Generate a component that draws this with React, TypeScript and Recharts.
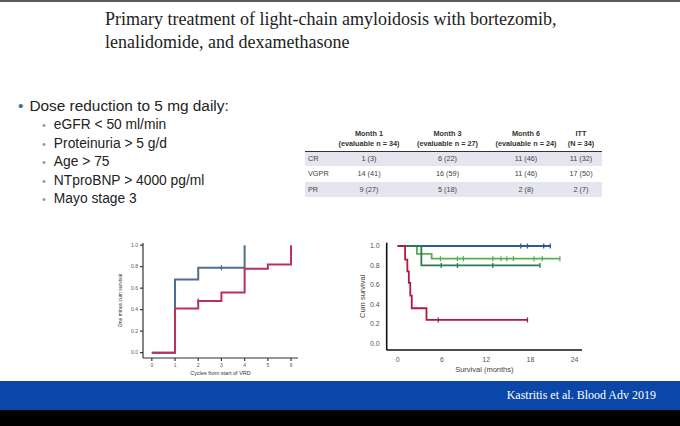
// Slide: VRd in AL amyloidosis — response table + two KM curves
import { LineChart, Line, XAxis, YAxis, Label } from 'recharts'

// ---- text ----
const titleLines = [
  'Primary treatment of light-chain amyloidosis with bortezomib,',
  'lenalidomide, and dexamethasone',
]
const mainBullet = 'Dose reduction to 5 mg daily:'
const subBullets = ['eGFR < 50 ml/min', 'Proteinuria > 5 g/d', 'Age > 75', 'NTproBNP > 4000 pg/ml', 'Mayo stage 3']
const citation = 'Kastritis et al. Blood Adv 2019'

// ---- response table ----
const colHeads = ['Month 1', 'Month 3', 'Month 6', 'ITT']
const colSubs = ['(evaluable n = 34)', '(evaluable n = 27)', '(evaluable n = 24)', '(N = 34)']
const responses = ['CR', 'VGPR', 'PR']
const month1 = ['1 (3)', '14 (41)', '9 (27)']
const month3 = ['6 (22)', '16 (59)', '5 (18)']
const month6 = ['11 (46)', '11 (46)', '2 (8)']
const itt = ['11 (32)', '17 (50)', '2 (7)']

// ---- left chart: cumulative response by cycle ----
const leftTicksX = [0, 1, 2, 3, 4, 5, 6]
const leftTicksY = [0, 0.2, 0.4, 0.6, 0.8, 1.0]
const lBlueT = [0, 1, 2, 3, 4]
const lBlueS = [0, 0.68, 0.79, 0.79, 1.0]
const lBlueC = [0, 0, 0, 1, 0]
const lRedT = [0, 1, 2, 3, 4, 5, 6]
const lRedS = [0, 0.41, 0.48, 0.56, 0.78, 0.82, 1.0]
const lRedC = [0, 0, 1, 0, 0, 0, 0]

// ---- right chart: survival (months) ----
const rightTicksX = [0, 6, 12, 18, 24]
const rightTicksY = [0, 0.2, 0.4, 0.6, 0.8, 1.0]
const rBlueT = [0, 16.7, 17.6, 19.8, 20.7]
const rBlueS = [1, 1, 1, 1, 1]
const rBlueC = [0, 1, 1, 1, 1]
const rLGreenT = [0, 2.6, 4.6, 5.8, 8.1, 8.9, 12.9, 14.0, 14.8, 15.7, 18.5, 19.6, 22.0]
const rLGreenS = [1, 0.92, 0.87, 0.87, 0.87, 0.87, 0.87, 0.87, 0.87, 0.87, 0.87, 0.87, 0.87]
const rLGreenC = [0, 0, 0, 1, 1, 1, 1, 1, 1, 1, 1, 1, 1]
const rDGreenT = [0, 3.2, 5.9, 8.1, 12.9, 19.3]
const rDGreenS = [1, 0.8, 0.8, 0.8, 0.8, 0.8]
const rDGreenC = [0, 0, 1, 1, 1, 1]
const rRedT = [0, 1.0, 1.3, 1.5, 1.7, 1.9, 3.9, 5.5, 17.6]
const rRedS = [1, 0.86, 0.74, 0.62, 0.49, 0.36, 0.24, 0.24, 0.24]
const rRedC = [0, 0, 0, 0, 0, 0, 0, 1, 1]

const zip = (t: number[], s: number[], c: number[]) => t.map((v, i) => ({ t: v, s: s[i], c: c[i] }))

const censorDot = (color: string, h: number) => (props: any) => {
  const { cx, cy, payload, index } = props
  if (!payload?.c) return <g key={`n${index}`} />
  return <line key={`c${index}`} x1={cx} x2={cx} y1={cy - h} y2={cy + h} stroke={color} strokeWidth={1.3} />
}

const sans = 'Arial, "Liberation Sans", sans-serif'
const serif = '"Liberation Serif", "Times New Roman", serif'

function LeftChart() {
  const blue = '#4d6f8f'
  const red = '#b8325c'
  const tick = { fontSize: 5, fill: '#555', fontFamily: sans }
  return (
    <LineChart width={220} height={150} margin={{ top: 8, right: 22, bottom: 7, left: 18 }}>
      <XAxis type="number" dataKey="t" domain={[-0.38, 6.3]} allowDataOverflow ticks={leftTicksX}
        tick={tick} tickSize={3} height={20} stroke="#333" strokeWidth={1.2}>
        <Label value="Cycles from start of VRD" position="insideBottom" offset={3}
          style={{ fontSize: 5.5, fill: '#333', fontFamily: sans }} />
      </XAxis>
      <YAxis type="number" domain={[-0.05, 1.02]} allowDataOverflow ticks={leftTicksY}
        tickFormatter={(v: number) => v.toFixed(1)} tick={tick} tickSize={3} width={25} stroke="#333" strokeWidth={1.2}>
        <Label value="One minus cum survival" angle={-90} position="insideLeft" offset={2}
          style={{ fontSize: 5, fill: '#333', textAnchor: 'middle', fontFamily: sans }} />
      </YAxis>
      <Line type="stepAfter" data={zip(lBlueT, lBlueS, lBlueC)} dataKey="s" stroke={blue} strokeWidth={2}
        dot={censorDot(blue, 2.5)} activeDot={false} isAnimationActive={false} />
      <Line type="stepAfter" data={zip(lRedT, lRedS, lRedC)} dataKey="s" stroke={red} strokeWidth={2}
        dot={censorDot(red, 2.5)} activeDot={false} isAnimationActive={false} />
    </LineChart>
  )
}

function RightChart() {
  const blue = '#2f5a97'
  const lgreen = '#55b04f'
  const dgreen = '#2a7a58'
  const red = '#b3183f'
  const tick = { fontSize: 7, fill: '#555', fontFamily: sans }
  return (
    <LineChart width={250} height={145} margin={{ top: 7.7, right: 8, bottom: 0, left: 16.7 }}>
      <XAxis type="number" dataKey="t" domain={[-1.5, 25]} allowDataOverflow ticks={rightTicksX}
        tick={tick} tickLine={false} tickMargin={1} height={30} stroke="#111" strokeWidth={1.6}>
        <Label value="Survival (months)" position="insideBottom" offset={8}
          style={{ fontSize: 7.5, fill: '#444', fontFamily: sans }} />
      </XAxis>
      <YAxis type="number" domain={[-0.069, 1.034]} allowDataOverflow ticks={rightTicksY}
        tickFormatter={(v: number) => v.toFixed(1)} tick={tick} tickLine={false} tickMargin={1}
        width={30} stroke="#111" strokeWidth={1.6}>
        <Label value="Cum survival" angle={-90} position="insideLeft" offset={6}
          style={{ fontSize: 7.5, fill: '#444', textAnchor: 'middle', fontFamily: sans }} />
      </YAxis>
      <Line type="stepAfter" data={zip(rBlueT, rBlueS, rBlueC)} dataKey="s" stroke={blue} strokeWidth={1.8}
        dot={censorDot(blue, 2.5)} activeDot={false} isAnimationActive={false} />
      <Line type="stepAfter" data={zip(rLGreenT, rLGreenS, rLGreenC)} dataKey="s" stroke={lgreen} strokeWidth={1.8}
        dot={censorDot(lgreen, 2.5)} activeDot={false} isAnimationActive={false} />
      <Line type="stepAfter" data={zip(rDGreenT, rDGreenS, rDGreenC)} dataKey="s" stroke={dgreen} strokeWidth={1.8}
        dot={censorDot(dgreen, 2.5)} activeDot={false} isAnimationActive={false} />
      <Line type="stepAfter" data={zip(rRedT, rRedS, rRedC)} dataKey="s" stroke={red} strokeWidth={1.8}
        dot={censorDot(red, 2.5)} activeDot={false} isAnimationActive={false} />
    </LineChart>
  )
}

function ResponseTable() {
  const cols = [month1, month3, month6, itt]
  const widths = [30, 68, 89, 68, 42]
  const cell = { padding: 0, textAlign: 'center' as const }
  return (
    <table style={{ position: 'absolute', left: 305, top: 127, width: 297, borderCollapse: 'collapse',
      fontFamily: sans, fontSize: 7.3, color: '#444', tableLayout: 'fixed' }}>
      <colgroup>{widths.map((w, i) => <col key={i} style={{ width: w }} />)}</colgroup>
      <thead>
        <tr style={{ height: 24, borderBottom: '1.5px solid #333' }}>
          <th />
          {colHeads.map((h, i) => (
            <th key={h} style={{ ...cell, fontWeight: 700, color: '#333', lineHeight: '9.5px', verticalAlign: 'middle' }}>
              {h}<br />{colSubs[i]}
            </th>
          ))}
        </tr>
      </thead>
      <tbody>
        {responses.map((r, ri) => (
          <tr key={r} style={{ height: 15.3, background: ri === 1 ? '#ffffff' : '#e5e5ef' }}>
            <td style={{ padding: '0 0 0 3px', textAlign: 'left' }}>{r}</td>
            {cols.map((c, ci) => <td key={ci} style={cell}>{c[ri]}</td>)}
          </tr>
        ))}
      </tbody>
    </table>
  )
}

export default function App() {
  return (
    <div style={{ position: 'absolute', left: 0, top: 0, width: 680, height: 426, background: '#fff', overflow: 'hidden' }}>
      <div style={{ position: 'absolute', left: 0, top: 0, width: 680, height: 2, background: '#5a5a5a' }} />
      <div style={{ position: 'absolute', left: 105, top: 8, fontFamily: serif, fontSize: 18, lineHeight: '23px', color: '#222' }}>
        {titleLines.map((l) => <div key={l} style={{ whiteSpace: 'nowrap' }}>{l}</div>)}
      </div>

      <div style={{ position: 'absolute', left: 18, top: 96, fontFamily: sans, color: '#222' }}>
        <div style={{ fontSize: 15.4, lineHeight: '20px', whiteSpace: 'nowrap' }}>
          <span style={{ color: '#3d6a9a', marginRight: 6 }}>•</span>{mainBullet}
        </div>
        {subBullets.map((b) => (
          <div key={b} style={{ fontSize: 13.8, lineHeight: '18.5px', whiteSpace: 'nowrap', paddingLeft: 24 }}>
            <span style={{ color: '#999', fontSize: 11, marginRight: 8 }}>•</span>{b}
          </div>
        ))}
      </div>

      <ResponseTable />

      <div style={{ position: 'absolute', left: 100, top: 235 }}><LeftChart /></div>
      <div style={{ position: 'absolute', left: 340, top: 235 }}><RightChart /></div>

      <div style={{ position: 'absolute', left: 0, top: 381, width: 680, height: 29, background: '#0b47a9' }} />
      <div style={{ position: 'absolute', left: 0, top: 410, width: 680, height: 16, background: '#000' }} />
      <div style={{ position: 'absolute', right: 24, top: 388, fontFamily: serif, fontSize: 12, color: '#fff', whiteSpace: 'nowrap' }}>
        {citation}
      </div>
    </div>
  )
}
